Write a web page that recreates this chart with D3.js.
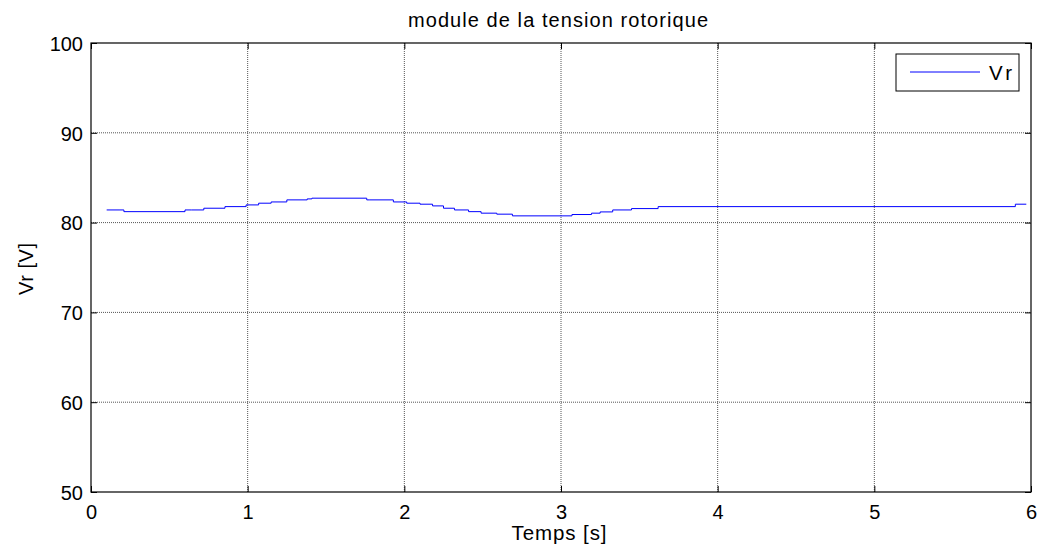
<!DOCTYPE html>
<html>
<head>
<meta charset="utf-8">
<script src="https://cdn.jsdelivr.net/npm/d3@7"></script>
<style>
  body { margin: 0; background: #fff; }
  text { font-family: "Liberation Sans", Arial, sans-serif; }
</style>
</head>
<body>
<svg id="chart" width="1037" height="550"></svg>
<script>
// temps [s] et module Vr [V]
var temps = [0.10, 0.185, 0.21, 0.60, 0.64, 0.72, 0.855, 0.99, 1.07, 1.15, 1.25, 1.38, 1.41, 1.76, 1.78, 1.93,
             2.015, 2.10, 2.18, 2.25, 2.32, 2.41, 2.49, 2.59, 2.69, 3.07, 3.195, 3.25, 3.33, 3.45, 3.62, 5.90, 5.97];
var vr =    [81.41, 81.41, 81.22, 81.41, 81.41, 81.60, 81.78, 81.97, 82.16, 82.30, 82.53, 82.64, 82.72, 82.53, 82.53, 82.30,
             82.16, 82.05, 81.86, 81.60, 81.41, 81.22, 81.05, 80.94, 80.75, 80.90, 81.05, 81.19, 81.41, 81.56, 81.78, 82.05, 82.05];
var xTicks = [0, 1, 2, 3, 4, 5, 6];
var yTicks = [50, 60, 70, 80, 90, 100];

var svg = d3.select("#chart");
var pLeft = 91, pTop = 43, pRight = 1031, pBottom = 492;

var x = d3.scaleLinear().domain([0, 6]).range([pLeft, pRight]);
var y = d3.scaleLinear().domain([50, 100]).range([pBottom, pTop]);

// grille
svg.append("g").selectAll("line").data(xTicks.slice(1, -1)).enter().append("line")
    .attr("x1", function (d) { return x(d); }).attr("x2", function (d) { return x(d); })
    .attr("y1", pTop).attr("y2", pBottom)
    .attr("stroke", "#555").attr("stroke-dasharray", "1,1");
svg.append("g").selectAll("line").data(yTicks.slice(1, -1)).enter().append("line")
    .attr("y1", function (d) { return y(d); }).attr("y2", function (d) { return y(d); })
    .attr("x1", pLeft).attr("x2", pRight)
    .attr("stroke", "#555").attr("stroke-dasharray", "1,1");

// axes (ticks vers l'intérieur)
var fmt = d3.format("d");
var ax = svg.append("g").attr("transform", "translate(0," + pBottom + ")")
    .call(d3.axisBottom(x).tickValues(xTicks).tickFormat(fmt).tickSizeInner(-6).tickSizeOuter(0));
var ay = svg.append("g").attr("transform", "translate(" + pLeft + ",0)")
    .call(d3.axisLeft(y).tickValues(yTicks).tickFormat(fmt).tickSizeInner(-6).tickSizeOuter(0));
svg.append("g").attr("transform", "translate(0," + pTop + ")")
    .call(d3.axisTop(x).tickValues(xTicks).tickSizeInner(-6).tickSizeOuter(0).tickFormat(""));
svg.append("g").attr("transform", "translate(" + pRight + ",0)")
    .call(d3.axisRight(y).tickValues(yTicks).tickSizeInner(-6).tickSizeOuter(0).tickFormat(""));
svg.selectAll(".domain").remove();
svg.selectAll(".tick text").attr("font-size", 20).attr("fill", "#000")
    .style("font-family", "'Liberation Sans', Arial, sans-serif");
svg.selectAll(".tick line").attr("stroke", "#000");
ax.selectAll(".tick text").attr("y", 26.5).attr("dy", null);
ay.selectAll(".tick text").attr("x", -8).attr("dy", "0.36em");

svg.append("rect").attr("x", pLeft).attr("y", pTop)
    .attr("width", pRight - pLeft).attr("height", pBottom - pTop)
    .attr("fill", "none").attr("stroke", "#000").attr("stroke-width", 1.2);

// courbe
var pts = temps.map(function (t, i) { return [t, vr[i]]; });
var line = d3.line().x(function (d) { return x(d[0]); }).y(function (d) { return y(d[1]); })
    .curve(d3.curveStepAfter);
svg.append("path").datum(pts).attr("d", line)
    .attr("fill", "none").attr("stroke", "#0000ff").attr("stroke-width", 1);

// textes
svg.append("text").attr("x", 558).attr("y", 27).attr("text-anchor", "middle")
    .attr("font-size", 20).attr("textLength", 300).attr("lengthAdjust", "spacing")
    .text("module de la tension rotorique");
svg.append("text").attr("x", 559).attr("y", 540).attr("text-anchor", "middle")
    .attr("font-size", 20.5).attr("textLength", 95).attr("lengthAdjust", "spacing")
    .text("Temps [s]");
svg.append("text").attr("transform", "translate(33,269) rotate(-90)")
    .attr("text-anchor", "middle").attr("font-size", 20)
    .attr("textLength", 52).attr("lengthAdjust", "spacing").text("Vr [V]");

// légende
var lg = svg.append("g");
lg.append("rect").attr("x", 896).attr("y", 54).attr("width", 123).attr("height", 37)
    .attr("fill", "#fff").attr("stroke", "#000");
lg.append("line").attr("x1", 910).attr("x2", 980).attr("y1", 72).attr("y2", 72)
    .attr("stroke", "#0000ff");
lg.append("text").attr("x", 989).attr("y", 80).attr("font-size", 20.5)
    .attr("textLength", 23).attr("lengthAdjust", "spacing").text("Vr");
</script>
</body>
</html>
